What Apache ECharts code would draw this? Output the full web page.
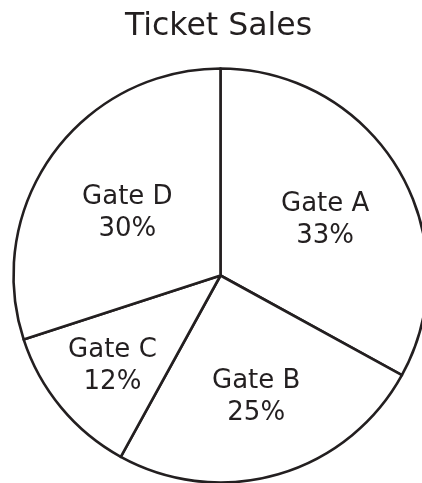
<!DOCTYPE html>
<html>
<head>
<meta charset="utf-8">
<script src="https://cdn.jsdelivr.net/npm/echarts@6/dist/echarts.min.js"></script>
<style>
html,body{margin:0;padding:0;background:#fff;}
#chart{width:422px;height:483px;}
</style>
</head>
<body>
<div id="chart"></div>
<script>
var titleText = 'Ticket Sales';
var categories = ['Gate A', 'Gate B', 'Gate C', 'Gate D'];
var values = [33, 25, 12, 30];
// label nudges (style only)
var labelNudge = [[13, -1], [6, 19], [-26, 23], [-7, 0]];

var ink = '#231f20';
var chart = echarts.init(document.getElementById('chart'), null, {renderer: 'canvas'});
chart.setOption({
  backgroundColor: '#ffffff',
  animation: false,
  title: {
    text: titleText,
    left: 125,
    top: 11,
    padding: 0,
    textStyle: {fontFamily: 'DejaVu Sans', fontSize: 31.5, fontWeight: 'normal', color: ink}
  },
  series: [{
    type: 'pie',
    center: [220.5, 275.5],
    radius: [0, 207],
    startAngle: 90,
    clockwise: true,
    silent: true,
    itemStyle: {color: '#ffffff', borderColor: ink, borderWidth: 2.6},
    label: {
      show: true,
      position: 'inside',
      formatter: '{b}\n{c}%',
      fontFamily: 'DejaVu Sans',
      fontSize: 26,
      lineHeight: 32,
      color: ink,
      align: 'center'
    },
    labelLine: {show: false},
    labelLayout: function (p) {
      var n = labelNudge[p.dataIndex];
      return {dx: n[0], dy: n[1]};
    },
    data: categories.map(function (c, i) { return {name: c, value: values[i]}; })
  }]
});
</script>
</body>
</html>
